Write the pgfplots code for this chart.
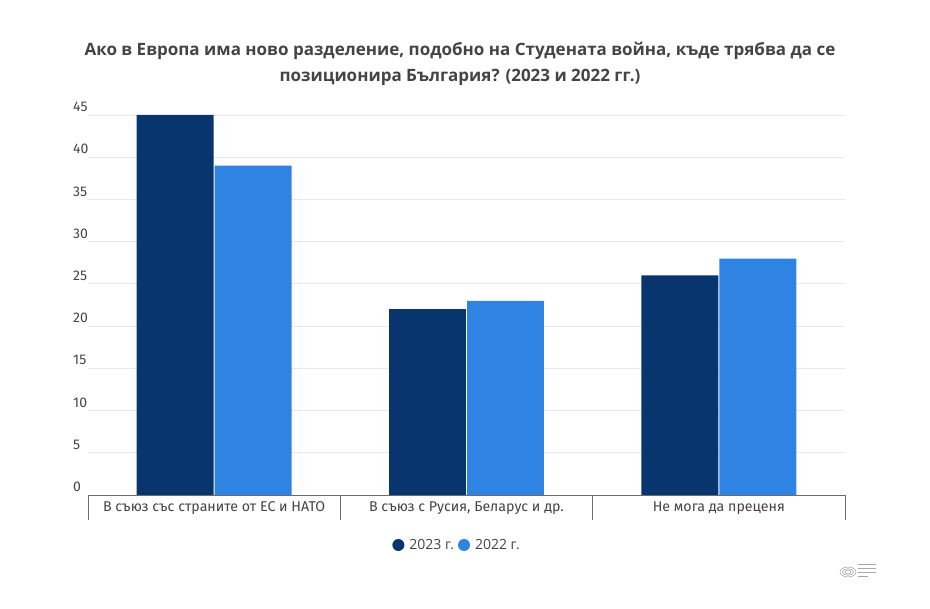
\documentclass[border=0pt]{standalone}
\usepackage{pgfplots}
\pgfplotsset{compat=1.18}
\usepackage{fontspec}
\setmainfont{Fira Sans}
\newfontfamily\titlefont{Open Sans}
\definecolor{dark}{HTML}{08356E}
\definecolor{light}{HTML}{2E83E3}
\definecolor{txt}{HTML}{444444}
\begin{document}
\begin{tikzpicture}
\path[use as bounding box] (0pt,0pt) rectangle (930pt,609pt);
\node[font=\titlefont\bfseries\fontsize{17}{26.5}\selectfont, text=txt, align=center] at (460pt,545pt) {Ако в Европа има ново разделение, подобно на Студената война, къде трябва да се\\позиционира България? (2023 и 2022 гг.)};
\begin{axis}[
  at={(88pt,114pt)}, anchor=south west,
  scale only axis, width=757pt, height=380pt,
  xmin=-0.5, xmax=2.5, ymin=0, ymax=45,
  ybar, bar width=0.305,
  axis x line*=bottom, axis y line*=left,
  y axis line style={draw=none},
  x axis line style={draw=gray!85!black, line width=0.8pt, -},
  ytick={0,5,...,45},
  ytick style={draw=none},
  ymajorgrids, grid style={draw=gray!18, line width=0.8pt},
  yticklabel style={anchor=south west, inner sep=0pt, xshift=-15pt, yshift=3pt, font=\fontsize{14}{14}\selectfont, text=txt},
  /pgf/number format/assume math mode=true,
  xtick={0,1,2},
  xticklabels={В съюз със страните от ЕС и НАТО, {В съюз с Русия, Беларус и др.}, Не мога да преценя},
  major x tick style={draw=none},
  minor xtick={-0.5,0.5,1.5,2.5},
  minor x tick style={draw=gray!85!black, line width=0.8pt},
  minor tick length=25pt, major tick length=0pt,
  tick align=outside,
  xticklabel style={anchor=base, yshift=-17pt, font=\fontsize{14.2}{14}\selectfont, text=txt},
  legend columns=-1,
  legend style={draw=none, at={(0.4875,-0.1316)}, anchor=center, font=\titlefont\fontsize{14}{14}\selectfont, text=txt,
    /tikz/every odd column/.append style={column sep=3pt},
    /tikz/every even column/.append style={column sep=2pt}},
  legend image code/.code={\fill (0pt,0pt) circle (6pt);},
]
\addplot[fill=dark, draw=none, bar shift=-0.1546] coordinates {(0,45) (1,22) (2,26)};
\addplot[fill=light, draw=none, bar shift=0.1546] coordinates {(0,39) (1,23) (2,28)};
\legend{2023 г., 2022 г.}
\end{axis}
\begin{scope}[gray!70, line width=0.6pt]
\draw (848pt,37pt) ellipse (8pt and 5pt);
\draw (848pt,37pt) ellipse (5.5pt and 3.3pt);
\draw (848pt,37pt) ellipse (3pt and 1.8pt);
\draw[line width=0.4pt] (858pt,45pt) -- (876pt,45pt) (858pt,41pt) -- (876pt,41pt) (858pt,37pt) -- (876pt,37pt) (858pt,33pt) -- (868pt,33pt);
\end{scope}
\end{tikzpicture}
\end{document}
